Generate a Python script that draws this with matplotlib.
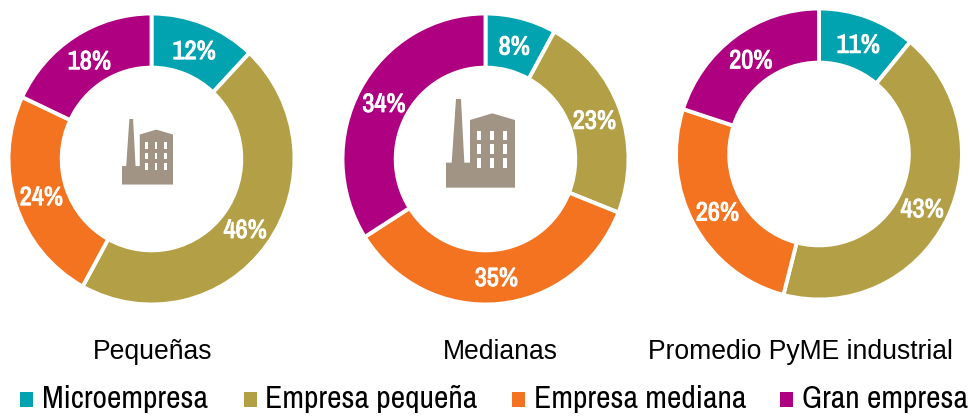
import matplotlib
matplotlib.use("Agg")
import matplotlib.pyplot as plt
import matplotlib.patheffects as pe
from matplotlib.patches import Polygon, Rectangle

W, H = 972, 419
categories = ["Microempresa", "Empresa pequeña", "Empresa mediana", "Gran empresa"]
colors = ["#00A3AF", "#B39F45", "#F47321", "#AE0080"]
pequenas = [12, 46, 24, 18]
medianas = [8, 23, 35, 34]
promedio = [11, 43, 26, 20]
titles = ["Pequeñas", "Medianas", "Promedio PyME industrial"]

NARROW = ["Archivo Narrow", "Liberation Sans"]
fig = plt.figure(figsize=(W / 100, H / 100), dpi=100, facecolor="white")

# pie placement in pixels: centre x, centre y, x radius, y radius
layout = [(151.5, 159, 143, 145.5), (485.5, 159, 143, 145.5), (819, 154, 143, 145.5)]
series = [pequenas, medianas, promedio]
for vals, (cx, cy, rx, ry) in zip(series, layout):
    ax = fig.add_axes([(cx - rx) / W, 1 - (cy + ry) / H, 2 * rx / W, 2 * ry / H])
    _, _, autotexts = ax.pie(
        vals, colors=colors, startangle=90, counterclock=False, radius=1,
        autopct=lambda p: f"{round(p)}%", pctdistance=0.81,
        wedgeprops=dict(width=0.372, edgecolor="white", linewidth=2.8),
        textprops=dict(color="white", fontsize=19, fontweight="bold", family=NARROW),
    )
    for t in autotexts:
        x, y = t.get_position()
        t.set_position((x, y - 0.015))
        t.set_path_effects([pe.withStroke(linewidth=0.7, foreground="white")])
    ax.set_aspect("auto")
    ax.set_xlim(-1, 1)
    ax.set_ylim(-1, 1)

# overlay in pixel coordinates
ov = fig.add_axes([0, 0, 1, 1], facecolor="none")
ov.set_xlim(0, W)
ov.set_ylim(H, 0)
ov.axis("off")

ICON = "#A19485"
OUTLINE = [(0, 191), (17, 191), (30, 0), (45, 0), (55, 191), (72, 191),
           (72, 63), (139, 43), (207, 63), (207, 266), (0, 266)]

def factory(x0, y0, s):
    ov.add_patch(Polygon([(x0 + a * s, y0 + b * s) for a, b in OUTLINE],
                         closed=True, fc=ICON, ec="none"))
    for wx in (92, 132, 172):
        for wy in (95, 136, 178):
            ov.add_patch(Rectangle((x0 + wx * s, y0 + wy * s), 12 * s, 28 * s, fc="white", ec="none"))

factory(122, 119, 51 / 207)
factory(446, 99, 69 / 207)

# titles
for t, x in zip(titles, (153, 500, 800.5)):
    ov.text(x, 352, t, ha="center", va="center", fontsize=19.1, family="Liberation Sans", color="black")

# legend
sq_x = [20, 244, 512, 780]
tx_x = [42, 265, 534, 802]
for c, name, sx, tx in zip(colors, categories, sq_x, tx_x):
    ov.add_patch(Rectangle((sx, 392), 13, 15, fc=c, ec="none"))
    ov.text(tx, 399, name, ha="left", va="center", fontsize=22.8, family=NARROW, color="black")

fig.savefig("out.png", dpi=100)
